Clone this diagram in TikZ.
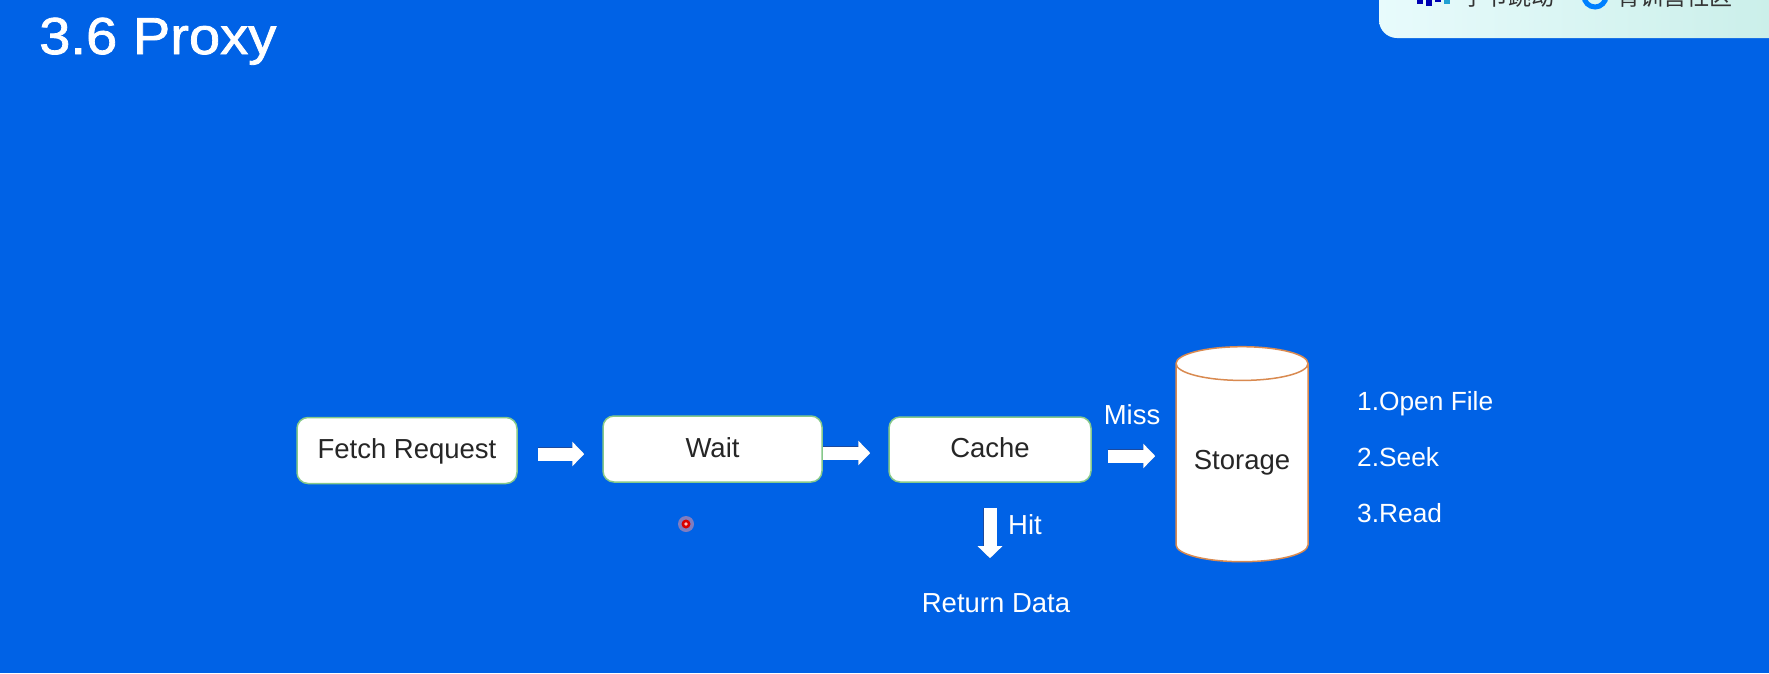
\documentclass[tikz,border=0pt]{standalone}
\usepackage{fontspec}
\setmainfont{Liberation Sans}
\newfontfamily\cjkfont{Noto Sans CJK SC}
\newfontfamily\titlefont[FakeBold=1.5,FakeStretch=1.08]{Liberation Sans}
\usetikzlibrary{arrows.meta,shapes.geometric}
\definecolor{slidebg}{HTML}{0062E6}
\definecolor{boxedge}{HTML}{86C98A}
\definecolor{cyledge}{HTML}{D98A50}
\definecolor{panelL}{HTML}{E8FBFC}
\definecolor{panelR}{HTML}{C8EEE8}
\definecolor{arrowedge}{HTML}{1C4A9E}
\begin{document}
\begin{tikzpicture}[x=1pt,y=-1pt]
    \tikzstyle{procbox}=[draw=boxedge,fill=white,line width=1.5pt,rounded corners=11pt,inner sep=0pt,text=black!85,text height=19.8pt,text depth=3pt,font=\fontsize{27.5}{30}\selectfont]
    \tikzstyle{lbl}=[inner sep=0pt,text=white,font=\fontsize{27.5}{30}\selectfont]
    \tikzstyle{listitem}=[anchor=west,inner sep=0pt,text=white,font=\fontsize{26.3}{30}\selectfont]
    \tikzstyle{blockarrow}=[white,line width=13pt,-{Triangle[length=12pt,width=24pt]},preaction={draw=arrowedge,line width=14.5pt}]
    \useasboundingbox (0,0) rectangle (1769,673);
    \fill[slidebg] (0,0) rectangle (1769,673);
    % panel top right
    \begin{scope}
      \clip (0,0) rectangle (1769,673);
      \path[left color=panelL,right color=panelR,rounded corners=18pt] (1379,-40) rectangle (1810,38);
      \foreach \xa/\ya in {1417/-4,1426/-2,1435/-6}
        \fill[blue!70!black] (\xa,\ya) rectangle ++(6,8);
      \fill[cyan!70!teal] (1444,-5) rectangle ++(6,9);
      \draw[line width=5pt,blue!50!cyan] (1595,-4) circle (11);
      \node[anchor=base west,inner sep=0pt,text=black!80,font=\cjkfont\fontsize{23}{25}\selectfont] (brand) at (1462,5) {字节跳动};
      \node[anchor=base west,inner sep=0pt,text=black!80,font=\cjkfont\fontsize{23}{25}\selectfont] (camp) at (1617,5) {青训营社区};
    \end{scope}
    \node[anchor=base west,inner sep=0pt,text=white,font=\titlefont\fontsize{52}{60}\selectfont] (title) at (39,54) {3.6 Proxy};
    % boxes
    \node[procbox,minimum width=220pt,minimum height=66pt] (fetch) at (407,450.5) {Fetch Request};
    \node[procbox,minimum width=219pt,minimum height=66pt] (wait) at (712.5,449) {Wait};
    \node[procbox,minimum width=202pt,minimum height=65pt] (cache) at (990,449.5) {Cache};
    \node[draw=cyledge,fill=white,line width=1.5pt,cylinder,shape border rotate=90,aspect=0.35,minimum width=132pt,minimum height=215pt,inner sep=0pt,text=black!85,font=\fontsize{27.5}{30}\selectfont] (storage) at (1242,463) {Storage};
    % labels
    \node[lbl] (miss) at (1132,415) {Miss};
    \node[lbl,anchor=west] (hit) at (1008,525) {Hit};
    \node[lbl] (ret) at (996,603) {Return Data};
    \node[listitem] (open) at (1357,404) {1.Open File};
    \node[listitem] (seek) at (1357,457) {2.Seek};
    \node[listitem] (read) at (1357,513) {3.Read};
    % arrows
    \draw[blockarrow,shorten <=20pt,shorten >=18pt] ([yshift=-3.5pt]fetch.east) -- ([yshift=-5pt]wait.west);
    \draw[blockarrow,shorten >=18pt] ([yshift=-4pt]wait.east) -- ([yshift=-3.5pt]cache.west);
    \draw[blockarrow,shorten <=16pt,shorten >=20pt] ([yshift=7pt]cache.east |- storage.west) -- ([yshift=7pt]storage.west);
    \draw[blockarrow,shorten <=25pt,shorten >=35pt] (cache.south) -- (cache.south |- ret.north);
    % pointer
    \fill[red!40!white,opacity=0.5] (686,524) circle (8);
    \fill[red!85!black] (686,524) circle (4.5);
    \fill[red!25] (686,524) circle (1.8);
\end{tikzpicture}
\end{document}
